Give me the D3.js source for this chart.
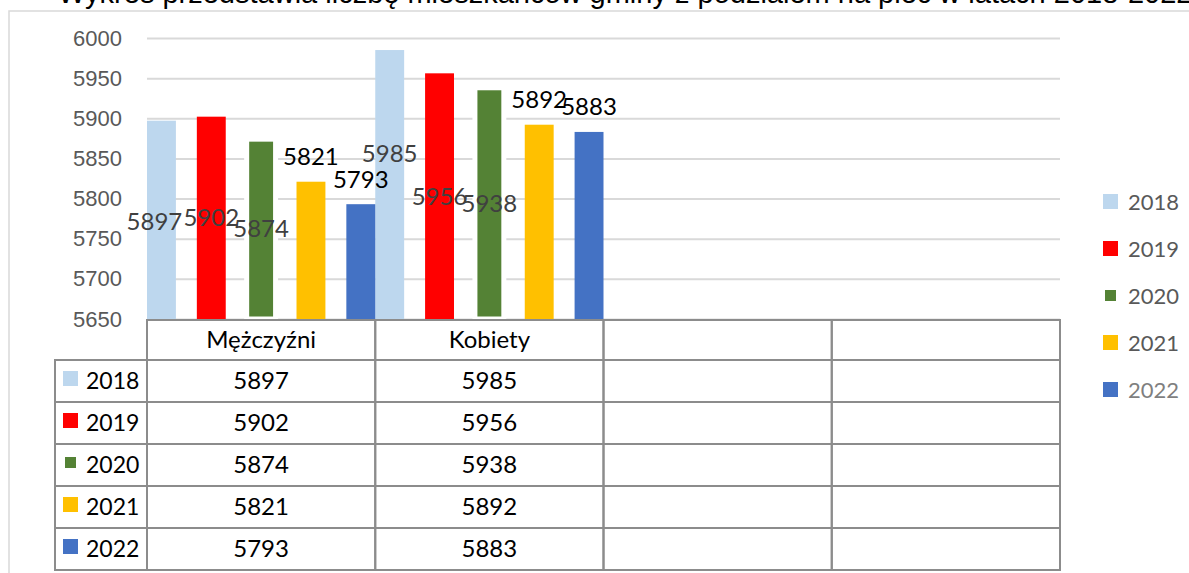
<!DOCTYPE html>
<html>
<head>
<meta charset="utf-8">
<script src="https://cdn.jsdelivr.net/npm/d3@7"></script>
<style>
  body { margin: 0; background: #fff; }
  svg { display: block; font-family: Lato, "Liberation Sans", sans-serif; }
</style>
</head>
<body>
<div id="chart"></div>
<script>
// data
var categories = ["Mężczyźni", "Kobiety", "", ""];
var years = ["2018", "2019", "2020", "2021", "2022"];
var values2018 = [5897, 5985];
var values2019 = [5902, 5956];
var values2020 = [5874, 5938];
var values2021 = [5821, 5892];
var values2022 = [5793, 5883];
var yTicks = [5650, 5700, 5750, 5800, 5850, 5900, 5950, 6000];
var title = "Wykres przedstawia liczbę mieszkańców gminy z podziałem na płeć w latach 2018-2022";

var seriesValues = [values2018, values2019, values2020, values2021, values2022];
var colors = ["#BDD7EE", "#FF0000", "#548235", "#FFC000", "#4472C4"];

var width = 1189,
    height = 573;

var plotLeft = 147, plotRight = 1060, plotTop = 38, plotBottom = 319;
var tableTop = 320, headerH = 40, rowH = 42, legendColLeft = 55;

var svg = d3.select("#chart").append("svg")
    .attr("width", width)
    .attr("height", height);

// chart area border
svg.append("rect")
    .attr("x", 9).attr("y", 11)
    .attr("width", 1400).attr("height", 800)
    .attr("fill", "none")
    .attr("stroke", "#d9d9d9")
    .attr("stroke-width", 1.5);

// title, mostly cut off at the top like in the source
svg.append("text")
    .attr("x", 58).attr("y", 3)
    .style("font-family", "'Liberation Sans', Arial, sans-serif")
    .style("font-size", "29px")
    .attr("fill", "#000")
    .text(title);

var x0 = d3.scaleBand()
    .domain(d3.range(categories.length))
    .range([plotLeft, plotRight])
    .padding(0);

var x1 = d3.scaleBand()
    .domain(years)
    .range([0, x0.bandwidth()])
    .paddingInner(0.42)
    .paddingOuter(0);

var y = d3.scaleLinear()
    .domain([5650, 6000])
    .range([plotBottom, plotTop]);

// axis + gridlines
var yAxis = svg.append("g")
    .attr("transform", "translate(" + plotLeft + ",0)")
    .call(d3.axisLeft(y)
      .tickValues(yTicks)
      .tickSize(-(plotRight - plotLeft))
      .tickPadding(25)
      .tickFormat(d3.format("d")));
yAxis.select(".domain").remove();
yAxis.selectAll(".tick line")
    .attr("stroke", "#d9d9d9")
    .attr("stroke-width", 2);
yAxis.selectAll(".tick text")
    .attr("fill", "#595959")
    .style("font-size", "22px");

// bars
var series = svg.selectAll(".series")
    .data(years)
  .enter().append("g")
    .attr("class", "series");

series.selectAll("rect")
    .data(function(yr, j) {
      return seriesValues[j].map(function(v, i) { return { year: yr, j: j, i: i, value: v }; });
    })
  .enter().append("rect")
    .attr("x", function(d) { return x0(d.i) + x1(d.year); })
    .attr("y", function(d) { return y(d.value); })
    .attr("width", x1.bandwidth())
    .attr("height", function(d) { return y(5650) - y(d.value); })
    .attr("fill", function(d) { return colors[d.j]; })
    .attr("stroke", function(d) { return d.j === 2 ? "#fff" : "none"; })
    .attr("stroke-width", 5);

// data labels: first three series centred in bar, last two above it
var labelNudge = { "0-0": [-7, 2], "1-0": [0, -31] };
var labels = [];
seriesValues.forEach(function(vals, j) {
  vals.forEach(function(v, i) { labels.push({ year: years[j], j: j, i: i, value: v }); });
});

svg.selectAll(".dlabel")
    .data(labels)
  .enter().append("text")
    .attr("class", "dlabel")
    .attr("x", function(d) {
      var n = labelNudge[d.i + "-" + d.j] || [0, 0];
      return x0(d.i) + x1(d.year) + x1.bandwidth() / 2 + n[0];
    })
    .attr("y", function(d) {
      var n = labelNudge[d.i + "-" + d.j] || [0, 0];
      var base = d.j < 3 ? (y(d.value) + y(5650)) / 2 : y(d.value) - 25;
      return base + n[1];
    })
    .attr("dy", "0.35em")
    .attr("text-anchor", "middle")
    .attr("fill", function(d) { return d.j < 3 ? "#404040" : "#000"; })
    .style("font-size", "24px")
    .text(function(d) { return d.value; });

// data table
var table = svg.append("g");

table.selectAll(".hcell")
    .data(categories)
  .enter().append("rect")
    .attr("x", function(d, i) { return x0(i); })
    .attr("y", tableTop)
    .attr("width", x0.bandwidth())
    .attr("height", headerH)
    .attr("fill", "none")
    .attr("stroke", "#8c8c8c")
    .attr("stroke-width", 2);

table.selectAll(".htext")
    .data(categories)
  .enter().append("text")
    .attr("x", function(d, i) { return x0(i) + x0.bandwidth() / 2; })
    .attr("y", tableTop + headerH / 2)
    .attr("dy", "0.35em")
    .attr("text-anchor", "middle")
    .attr("fill", "#000")
    .style("font-size", "24px")
    .text(function(d) { return d; });

var rows = table.selectAll(".trow")
    .data(years)
  .enter().append("g")
    .attr("class", "trow")
    .attr("transform", function(d, j) { return "translate(0," + (tableTop + headerH + j * rowH) + ")"; });

rows.append("rect")
    .attr("x", legendColLeft)
    .attr("width", plotLeft - legendColLeft)
    .attr("height", rowH)
    .attr("fill", "none")
    .attr("stroke", "#8c8c8c")
    .attr("stroke-width", 2);

rows.selectAll(".vcell")
    .data(categories)
  .enter().append("rect")
    .attr("x", function(d, i) { return x0(i); })
    .attr("width", x0.bandwidth())
    .attr("height", rowH)
    .attr("fill", "none")
    .attr("stroke", "#8c8c8c")
    .attr("stroke-width", 2);

rows.append("rect")
    .attr("x", 63)
    .attr("y", rowH / 2 - 10)
    .attr("width", 15)
    .attr("height", 15)
    .attr("fill", function(d, j) { return colors[j]; })
    .attr("stroke", function(d, j) { return j === 2 ? "#fff" : "none"; })
    .attr("stroke-width", 4);

rows.append("text")
    .attr("x", 86)
    .attr("y", rowH / 2)
    .attr("dy", "0.35em")
    .attr("fill", "#000")
    .style("font-size", "23px")
    .text(function(d) { return d; });

rows.selectAll(".vtext")
    .data(function(d, j) { return categories.map(function(c, i) { return seriesValues[j][i]; }); })
  .enter().append("text")
    .attr("x", function(d, i) { return x0(i) + x0.bandwidth() / 2; })
    .attr("y", rowH / 2)
    .attr("dy", "0.35em")
    .attr("text-anchor", "middle")
    .attr("fill", "#000")
    .style("font-size", "24px")
    .text(function(d) { return d === undefined ? "" : d; });

// legend on the right
var legend = svg.selectAll(".legend")
    .data(years)
  .enter().append("g")
    .attr("class", "legend")
    .attr("transform", function(d, j) { return "translate(1103," + (202 + j * 47) + ")"; });

legend.append("rect")
    .attr("y", -8)
    .attr("width", 15)
    .attr("height", 15)
    .attr("fill", function(d, j) { return colors[j]; })
    .attr("stroke", function(d, j) { return j === 2 ? "#fff" : "none"; })
    .attr("stroke-width", 4);

legend.append("text")
    .attr("x", 25)
    .attr("dy", "0.35em")
    .attr("fill", function(d, j) { return j === 4 ? "#7f7f7f" : "#595959"; })
    .style("font-size", "22px")
    .text(function(d) { return d; });
</script>
</body>
</html>
